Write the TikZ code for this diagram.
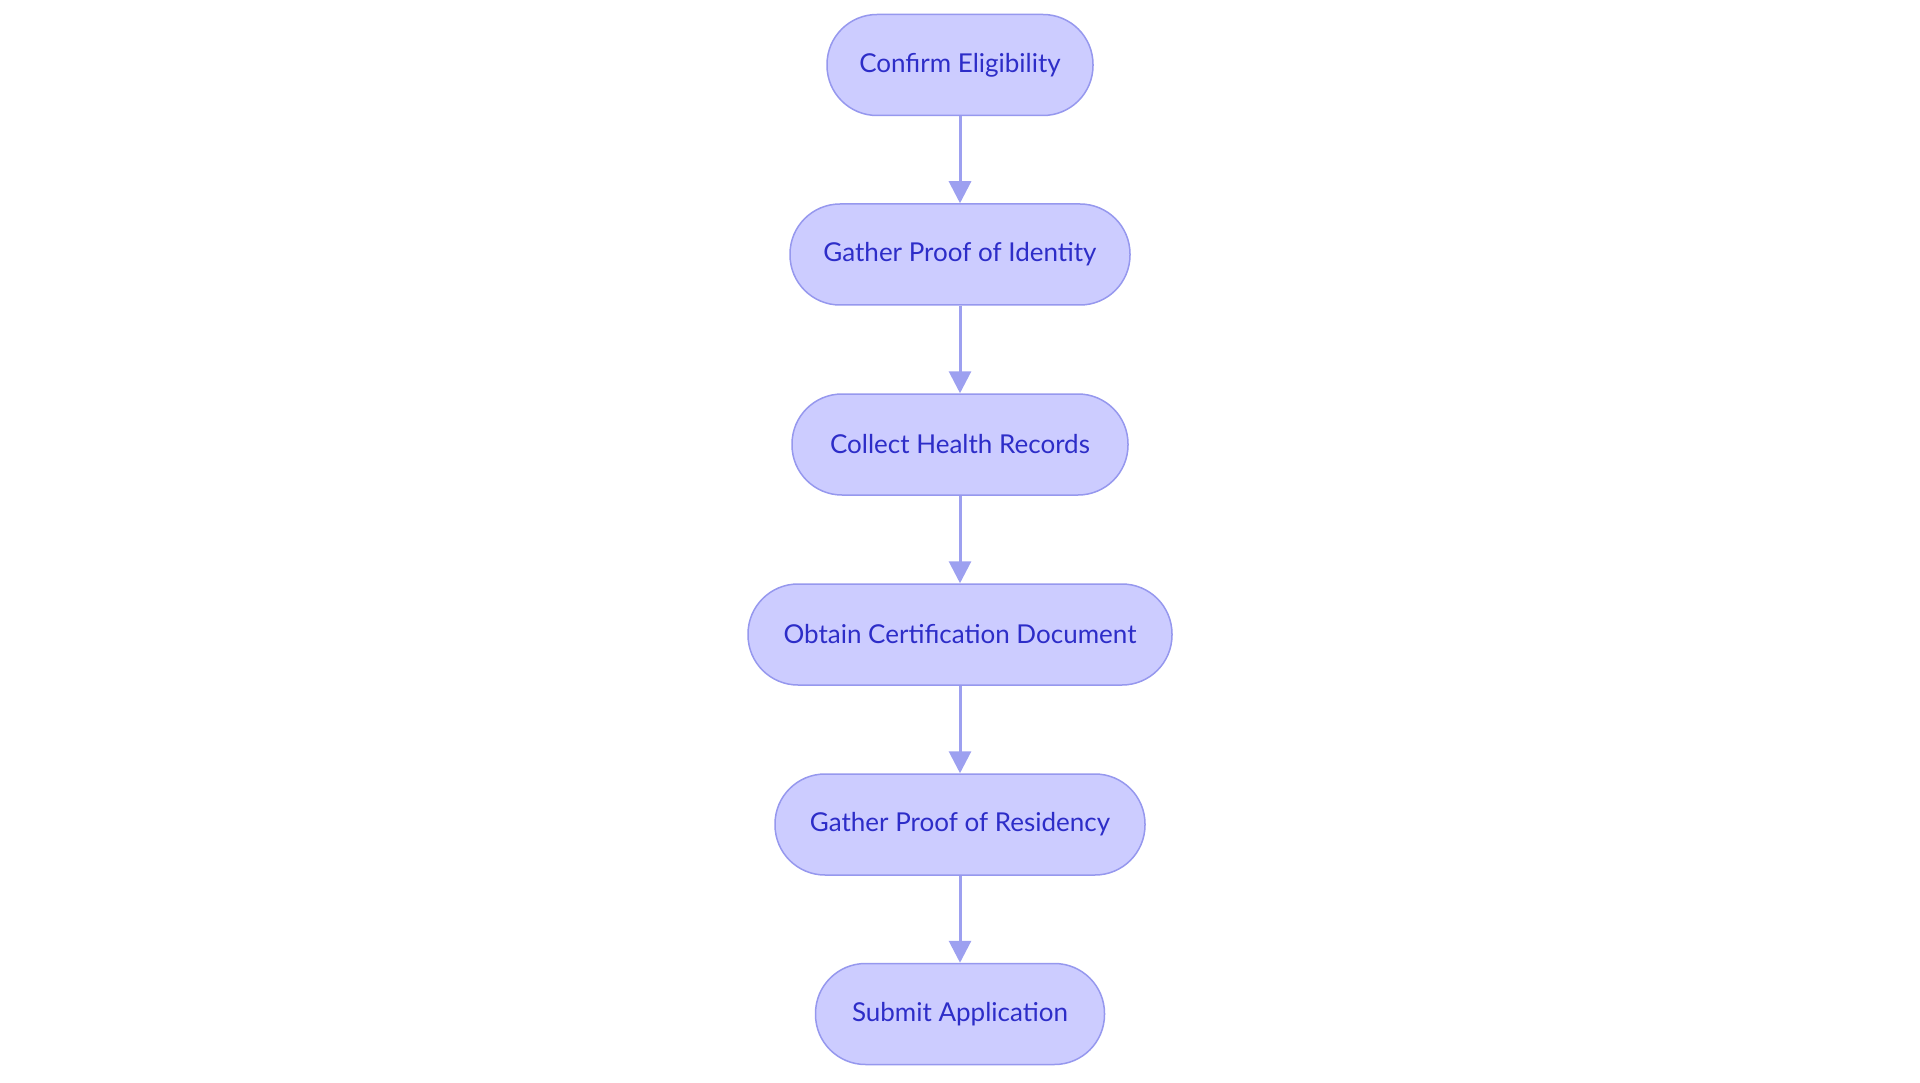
\documentclass[tikz,border=0pt]{standalone}
\usepackage{fontspec}
\setmainfont{Lato}
\usetikzlibrary{arrows.meta}
\definecolor{boxfill}{RGB}{204,204,255}
\definecolor{boxline}{RGB}{150,152,238}
\definecolor{arrowcol}{RGB}{157,160,240}
\definecolor{txtcol}{RGB}{45,45,200}
\tikzset{
  stepbox/.style={draw=boxline, fill=boxfill, line width=1.5pt, rounded corners=50pt,
    minimum height=101pt, inner sep=0pt, text=txtcol,
    font=\fontsize{26}{31}\selectfont},
  flow/.style={draw=arrowcol, line width=3pt, -{Triangle[length=22pt,width=22pt]}}
}
\begin{document}
\begin{tikzpicture}[x=1pt,y=-1pt]
\useasboundingbox (0,0) rectangle (1920,1083);
\fill[white] (0,0) rectangle (1920,1083);
\node[stepbox, minimum width=266pt] (a) at (960,65) {Confirm Eligibility};
\node[stepbox, minimum width=340pt] (b) at (960,254.5) {Gather Proof of Identity};
\node[stepbox, minimum width=336pt] (c) at (960,444.5) {Collect Health Records};
\node[stepbox, minimum width=424pt] (d) at (960,634.5) {Obtain Certification Document};
\node[stepbox, minimum width=370pt] (e) at (960,824.5) {Gather Proof of Residency};
\node[stepbox, minimum width=289pt] (f) at (960,1014) {Submit Application};
\draw[flow] (a) -- (b);
\draw[flow] (b) -- (c);
\draw[flow] (c) -- (d);
\draw[flow] (d) -- (e);
\draw[flow] (e) -- (f);
\end{tikzpicture}
\end{document}
